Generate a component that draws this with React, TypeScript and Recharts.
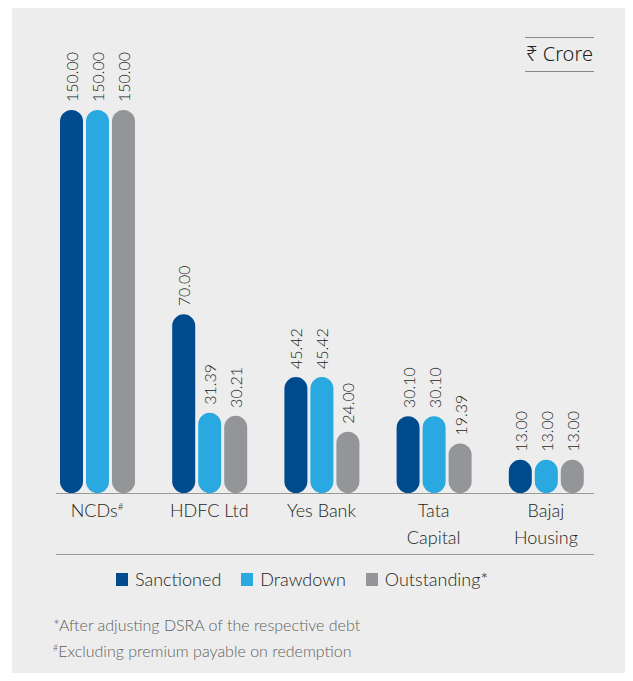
import { BarChart, Bar, XAxis, YAxis, Legend, LabelList } from 'recharts';

const categories = ['NCDs#', 'HDFC Ltd', 'Yes Bank', 'Tata\nCapital', 'Bajaj\nHousing'];
const seriesNames = ['Sanctioned', 'Drawdown', 'Outstanding*'];
const sanctioned = [150.0, 70.0, 45.42, 30.1, 13.0];
const drawdown = [150.0, 31.39, 45.42, 30.1, 13.0];
const outstanding = [150.0, 30.21, 24.0, 19.39, 13.0];

const data = categories.map((name, i) => ({
  name,
  sanctioned: sanctioned[i],
  drawdown: drawdown[i],
  outstanding: outstanding[i],
}));

const FONT = 'Lato, "Noto Sans", sans-serif';
const TEXT = '#231f20';

// rotated value label sitting above each pill
const ValueLabel = (props: any) => {
  const { x, y, width, value } = props;
  const cx = x + width / 2;
  const cy = y - 8;
  return (
    <text
      x={cx}
      y={cy}
      transform={`rotate(-90 ${cx} ${cy})`}
      textAnchor="start"
      dominantBaseline="central"
      fontFamily={FONT}
      fontWeight={300}
      fontSize={16}
      fill={TEXT}
    >
      {Number(value).toFixed(2)}
    </text>
  );
};

const CategoryTick = (props: any) => {
  const { x, y, payload } = props;
  const lines: string[] = String(payload.value).split('\n');
  return (
    <text x={x} y={y} textAnchor="middle" fontFamily={FONT} fontWeight={300} fontSize={18} fill={TEXT}>
      {lines.map((line, i) => {
        if (line.endsWith('#')) {
          return (
            <tspan key={i} x={x} dy={24}>
              {line.slice(0, -1)}
              <tspan fontSize={10} dy={-7}>#</tspan>
            </tspan>
          );
        }
        return (
          <tspan key={i} x={x} dy={i === 0 ? 24 : 27}>
            {line}
          </tspan>
        );
      })}
    </text>
  );
};

const renderLegend = (props: any) => {
  const payload = [...(props.payload || [])].sort(
    (a: any, b: any) => seriesNames.indexOf(a.value) - seriesNames.indexOf(b.value)
  );
  return (
    <div style={{ display: 'flex', alignItems: 'center', fontFamily: FONT, fontWeight: 300, fontSize: 18, color: TEXT }}>
      {payload.map((entry: any, i: number) => (
        <div key={i} style={{ display: 'flex', alignItems: 'center', marginRight: 20 }}>
          <span style={{ width: 12, height: 13, background: entry.color, display: 'inline-block', marginRight: 7 }} />
          <span>{entry.value}</span>
        </div>
      ))}
    </div>
  );
};

export default function App() {
  return (
    <div style={{ position: 'relative', width: 633, height: 681, margin: -8, overflow: 'hidden', background: '#fff' }}>
      <div style={{ position: 'absolute', left: 12, top: 5, width: 621, height: 676, background: '#ededed' }} />

      {/* unit box */}
      <div
        style={{
          position: 'absolute',
          left: 525,
          top: 37,
          width: 69,
          height: 33,
          borderTop: '1.5px solid #8a8a8a',
          borderBottom: '1.5px solid #8a8a8a',
          fontFamily: '"Noto Sans", Lato, sans-serif',
          fontWeight: 300,
          fontSize: 20,
          color: TEXT,
          lineHeight: '32px',
          textAlign: 'center',
        }}
      >
        ₹ Crore
      </div>

      {/* baseline and separator */}
      <div style={{ position: 'absolute', left: 56, top: 493, width: 538, height: 0, borderTop: '1.5px solid #9a9a9a' }} />
      <div style={{ position: 'absolute', left: 56, top: 554, width: 538, height: 0, borderTop: '1.5px solid #9a9a9a' }} />

      <div style={{ position: 'absolute', left: 0, top: 0 }}>
        <BarChart
          width={633}
          height={681}
          data={data}
          margin={{ top: 110, right: 31, bottom: 128, left: 41 }}
          barSize={23}
          barGap={3}
        >
          <YAxis hide domain={[0, 150]} />
          <XAxis
            dataKey="name"
            axisLine={false}
            tickLine={false}
            tickSize={0}
            tickMargin={0}
            height={60}
            interval={0}
            tick={<CategoryTick />}
          />
          <Legend
            layout="horizontal"
            verticalAlign="middle"
            align="center"
            content={renderLegend}
            wrapperStyle={{ position: 'absolute', top: 568, left: 116, width: 'auto' }}
          />
          <Bar dataKey="sanctioned" name={seriesNames[0]} fill="#004b8d" radius={11.5} isAnimationActive={false}>
            <LabelList dataKey="sanctioned" content={<ValueLabel />} />
          </Bar>
          <Bar dataKey="drawdown" name={seriesNames[1]} fill="#29a9e0" radius={11.5} isAnimationActive={false}>
            <LabelList dataKey="drawdown" content={<ValueLabel />} />
          </Bar>
          <Bar dataKey="outstanding" name={seriesNames[2]} fill="#939598" radius={11.5} isAnimationActive={false}>
            <LabelList dataKey="outstanding" content={<ValueLabel />} />
          </Bar>
        </BarChart>
      </div>

      <div style={{ position: 'absolute', left: 53, top: 613, fontFamily: FONT, fontWeight: 300, fontSize: 16, color: '#5f5f5f', lineHeight: '23px' }}>
        <div>*After adjusting DSRA of the respective debt</div>
        <div>
          <sup style={{ fontSize: 9 }}>#</sup>Excluding premium payable on redemption
        </div>
      </div>
    </div>
  );
}
